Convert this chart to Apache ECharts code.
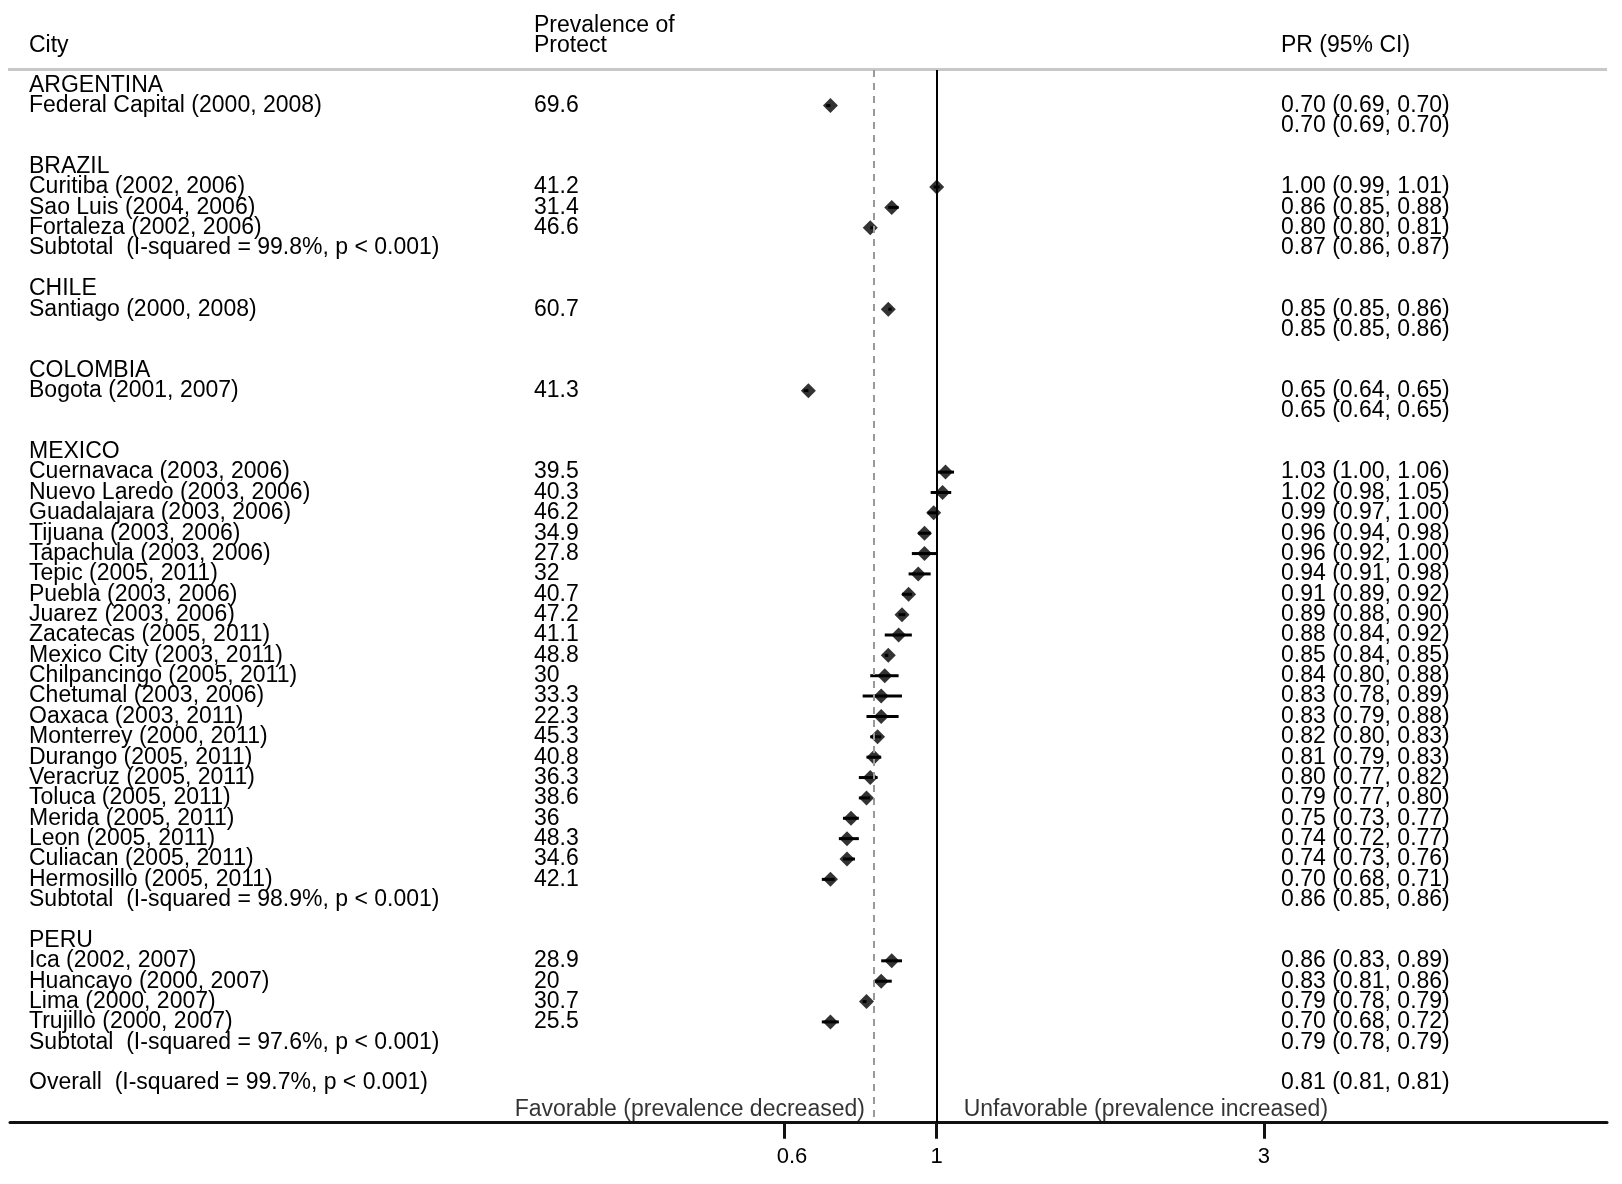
<!DOCTYPE html>
<html>
<head>
<meta charset="utf-8">
<title>Forest plot</title>
<script src="https://cdn.jsdelivr.net/npm/echarts@6.0.0/dist/echarts.min.js"></script>
<style>
  html, body { margin: 0; padding: 0; background: #fff; }
  #main { width: 1622px; height: 1184px; }
</style>
</head>
<body>
<div id="main"></div>
<script>
var FONT = 'Liberation Sans';
var TXT = 23;

// one entry per row of the table, top to bottom
var rowLabels = [
  'ARGENTINA', 'Federal Capital (2000, 2008)', '', '',
  'BRAZIL', 'Curitiba (2002, 2006)', 'Sao Luis (2004, 2006)', 'Fortaleza (2002, 2006)',
  'Subtotal  (I-squared = 99.8%, p < 0.001)', '',
  'CHILE', 'Santiago (2000, 2008)', '', '',
  'COLOMBIA', 'Bogota (2001, 2007)', '', '',
  'MEXICO', 'Cuernavaca (2003, 2006)', 'Nuevo Laredo (2003, 2006)', 'Guadalajara (2003, 2006)',
  'Tijuana (2003, 2006)', 'Tapachula (2003, 2006)', 'Tepic (2005, 2011)', 'Puebla (2003, 2006)',
  'Juarez (2003, 2006)', 'Zacatecas (2005, 2011)', 'Mexico City (2003, 2011)', 'Chilpancingo (2005, 2011)',
  'Chetumal (2003, 2006)', 'Oaxaca (2003, 2011)', 'Monterrey (2000, 2011)', 'Durango (2005, 2011)',
  'Veracruz (2005, 2011)', 'Toluca (2005, 2011)', 'Merida (2005, 2011)', 'Leon (2005, 2011)',
  'Culiacan (2005, 2011)', 'Hermosillo (2005, 2011)',
  'Subtotal  (I-squared = 98.9%, p < 0.001)', '',
  'PERU', 'Ica (2002, 2007)', 'Huancayo (2000, 2007)', 'Lima (2000, 2007)', 'Trujillo (2000, 2007)',
  'Subtotal  (I-squared = 97.6%, p < 0.001)', '',
  'Overall  (I-squared = 99.7%, p < 0.001)'
];

var prevalence = [
  null, 69.6, null, null,
  null, 41.2, 31.4, 46.6, null, null,
  null, 60.7, null, null,
  null, 41.3, null, null,
  null, 39.5, 40.3, 46.2, 34.9, 27.8, 32, 40.7, 47.2, 41.1, 48.8, 30, 33.3, 22.3, 45.3, 40.8, 36.3, 38.6, 36, 48.3, 34.6, 42.1,
  null, null,
  null, 28.9, 20, 30.7, 25.5, null, null,
  null
];

var prEst = [
  null, 0.70, 0.70, null,
  null, 1.00, 0.86, 0.80, 0.87, null,
  null, 0.85, 0.85, null,
  null, 0.65, 0.65, null,
  null, 1.03, 1.02, 0.99, 0.96, 0.96, 0.94, 0.91, 0.89, 0.88, 0.85, 0.84, 0.83, 0.83, 0.82, 0.81, 0.80, 0.79, 0.75, 0.74, 0.74, 0.70,
  0.86, null,
  null, 0.86, 0.83, 0.79, 0.70, 0.79, null,
  0.81
];
var prLo = [
  null, 0.69, 0.69, null,
  null, 0.99, 0.85, 0.80, 0.86, null,
  null, 0.85, 0.85, null,
  null, 0.64, 0.64, null,
  null, 1.00, 0.98, 0.97, 0.94, 0.92, 0.91, 0.89, 0.88, 0.84, 0.84, 0.80, 0.78, 0.79, 0.80, 0.79, 0.77, 0.77, 0.73, 0.72, 0.73, 0.68,
  0.85, null,
  null, 0.83, 0.81, 0.78, 0.68, 0.78, null,
  0.81
];
var prHi = [
  null, 0.70, 0.70, null,
  null, 1.01, 0.88, 0.81, 0.87, null,
  null, 0.86, 0.86, null,
  null, 0.65, 0.65, null,
  null, 1.06, 1.05, 1.00, 0.98, 1.00, 0.98, 0.92, 0.90, 0.92, 0.85, 0.88, 0.89, 0.88, 0.83, 0.83, 0.82, 0.80, 0.77, 0.77, 0.76, 0.71,
  0.86, null,
  null, 0.89, 0.86, 0.79, 0.72, 0.79, null,
  0.81
];

var xTicks = [0.6, 1, 3];

var overallRow = rowLabels.length - 1;
var noteRow = rowLabels.length;

var points = [], ciLines = [], cityRows = [], prevRows = [], prRows = [];
rowLabels.forEach(function (label, i) {
  if (label !== '') cityRows.push(i);
  if (prevalence[i] != null) {
    prevRows.push(i);
    points.push([prEst[i], i]);
    ciLines.push([prLo[i], prHi[i], i]);
  }
  if (prEst[i] != null) prRows.push(i);
});

function prText(i) {
  return prEst[i].toFixed(2) + ' (' + prLo[i].toFixed(2) + ', ' + prHi[i].toFixed(2) + ')';
}

var yMin = -0.747, yMax = 50.95;

// value axis used as a text column; the blank end labels are there so that
// echarts' min/max-label overlap check drops them instead of a real row
function textAxis(rows, fmt, margin) {
  return {
    type: 'value',
    position: 'left',
    inverse: true,
    min: yMin,
    max: yMax,
    axisLine: { show: false },
    axisTick: { show: false },
    splitLine: { show: false },
    axisLabel: {
      customValues: [yMin].concat(rows, [yMax]),
      showMinLabel: false,
      showMaxLabel: false,
      formatter: function (v) {
        return (v === yMin || v === yMax) ? '' : fmt(v);
      },
      align: 'left',
      margin: margin,
      color: '#000',
      fontFamily: FONT,
      fontSize: TXT
    }
  };
}

var myChart = echarts.init(document.getElementById('main'), null, { renderer: 'canvas' });

var headFont = TXT + 'px ' + FONT;

var option = {
  backgroundColor: '#fff',
  animation: false,
  textStyle: { fontFamily: FONT },
  grid: { left: 10, width: 1597, top: 70, height: 1052.7 },
  graphic: [
    { type: 'line', shape: { x1: 8, y1: 69.5, x2: 1607, y2: 69.5 }, style: { stroke: '#c8c8c8', lineWidth: 3 } },
    { type: 'text', x: 29, y: 45.5, style: { text: 'City', font: headFont, fill: '#000', verticalAlign: 'middle' } },
    { type: 'text', x: 534, y: 25.5, style: { text: 'Prevalence of', font: headFont, fill: '#000', verticalAlign: 'middle' } },
    { type: 'text', x: 534, y: 45.5, style: { text: 'Protect', font: headFont, fill: '#000', verticalAlign: 'middle' } },
    { type: 'text', x: 1281, y: 45.5, style: { text: 'PR (95% CI)', font: headFont, fill: '#000', verticalAlign: 'middle' } }
  ],
  xAxis: {
    type: 'log',
    logBase: 10,
    min: 0.04453,
    max: 9.495,
    axisLine: { onZero: false, lineStyle: { color: '#111', width: 3 } },
    axisTick: { customValues: xTicks, length: 16, lineStyle: { color: '#111', width: 3 } },
    axisLabel: {
      customValues: xTicks,
      formatter: function (v) {
        var s = String(+v.toFixed(2));
        // stata draws the 0.6 label a little right of its tick
        return v < 1 ? '{r|' + s + '}' : s;
      },
      rich: { r: { padding: [0, 0, 0, 15], fontSize: 22, fontFamily: FONT, color: '#000' } },
      margin: 23,
      color: '#000',
      fontFamily: FONT,
      fontSize: 22
    },
    splitLine: { show: false },
    minorTick: { show: false }
  },
  yAxis: [
    textAxis(cityRows, function (v) { return rowLabels[v]; }, -19),
    textAxis(prevRows, function (v) { return String(prevalence[v]); }, -524),
    textAxis(prRows, function (v) { return prText(v); }, -1271)
  ],
  series: [
    {
      // confidence intervals
      type: 'custom',
      silent: true,
      data: ciLines,
      renderItem: function (params, api) {
        var a = api.coord([api.value(0), api.value(2)]);
        var b = api.coord([api.value(1), api.value(2)]);
        return {
          type: 'line',
          shape: { x1: a[0], y1: a[1], x2: b[0], y2: b[1] },
          style: { stroke: '#000', lineWidth: 3 }
        };
      },
      markLine: {
        silent: true,
        symbol: 'none',
        label: { show: false },
        data: [
          { xAxis: 1, lineStyle: { color: '#000', width: 2, type: 'solid' } },
          { xAxis: prEst[overallRow], lineStyle: { color: '#999', width: 2, type: [7, 6] } }
        ]
      }
    },
    {
      // point estimates
      type: 'scatter',
      symbol: 'diamond',
      symbolSize: 15,
      itemStyle: { color: '#000' },
      data: points,
      z: 3
    },
    {
      type: 'scatter',
      symbolSize: 0,
      silent: true,
      data: [[prEst[overallRow], noteRow]],
      label: {
        show: true, position: 'left', distance: 9, offset: [0, 6],
        formatter: 'Favorable (prevalence decreased)',
        color: '#000', fontFamily: FONT, fontSize: TXT
      }
    },
    {
      type: 'scatter',
      symbolSize: 0,
      silent: true,
      data: [[1, noteRow]],
      label: {
        show: true, position: 'right', distance: 27, offset: [0, 6],
        formatter: 'Unfavorable (prevalence increased)',
        color: '#000', fontFamily: FONT, fontSize: TXT
      }
    }
  ]
};

myChart.setOption(option);
</script>
</body>
</html>
